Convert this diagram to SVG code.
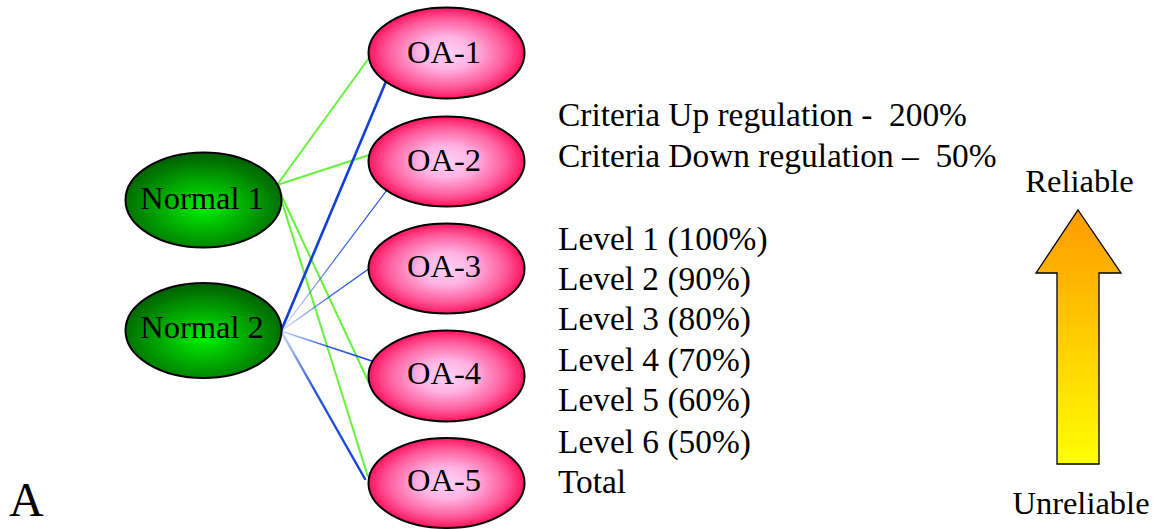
<svg xmlns="http://www.w3.org/2000/svg" width="1154" height="529" viewBox="0 0 1154 529">
<defs>
<radialGradient id="pink" cx="0.5" cy="0.5" r="0.5">
<stop offset="0" stop-color="#ffd2f6"/>
<stop offset="0.35" stop-color="#ffb4e4"/>
<stop offset="0.75" stop-color="#ff5c9c"/>
<stop offset="1" stop-color="#ff1460"/>
</radialGradient>
<radialGradient id="green" cx="0.5" cy="0.58" r="0.55">
<stop offset="0" stop-color="#00f000"/>
<stop offset="1" stop-color="#006400"/>
</radialGradient>
<linearGradient id="arrowGrad" x1="0" y1="0" x2="0" y2="1">
<stop offset="0" stop-color="#ff9a00"/>
<stop offset="1" stop-color="#ffff00"/>
</linearGradient>
<linearGradient id="b2" gradientUnits="userSpaceOnUse" x1="281" y1="331" x2="390" y2="186">
<stop offset="0" stop-color="#1040d8" stop-opacity="0.15"/>
<stop offset="0.5" stop-color="#1040d8" stop-opacity="0.8"/>
<stop offset="1" stop-color="#1040d8"/>
</linearGradient>
<linearGradient id="b3" gradientUnits="userSpaceOnUse" x1="281" y1="331" x2="377" y2="263">
<stop offset="0" stop-color="#1040d8" stop-opacity="0.15"/>
<stop offset="0.5" stop-color="#1040d8" stop-opacity="0.8"/>
<stop offset="1" stop-color="#1040d8"/>
</linearGradient>
<linearGradient id="b4" gradientUnits="userSpaceOnUse" x1="281" y1="331" x2="378" y2="363">
<stop offset="0" stop-color="#1040d8" stop-opacity="0.2"/>
<stop offset="0.5" stop-color="#1040d8" stop-opacity="0.85"/>
<stop offset="1" stop-color="#1040d8"/>
</linearGradient>
<linearGradient id="b5" gradientUnits="userSpaceOnUse" x1="281" y1="331" x2="365" y2="479">
<stop offset="0" stop-color="#1040d8" stop-opacity="0.2"/>
<stop offset="0.4" stop-color="#1040d8" stop-opacity="0.9"/>
<stop offset="1" stop-color="#1040d8"/>
</linearGradient>
</defs>
<style>
.oa{fill:url(#pink);stroke:#000;stroke-width:2}
.nm{fill:url(#green);stroke:#000;stroke-width:2}
.lbl{font-size:32.5px;fill:#000;text-anchor:middle}
.txt{font-size:33.4px;fill:#000;white-space:pre}
.g{stroke:#66f23a;stroke-width:2;fill:none}
.b{fill:none;stroke-linecap:round}
</style>
<rect width="1154" height="529" fill="#fff"/>
<g id="connectors">
<line class="g" x1="277" y1="185" x2="369" y2="58"/>
<line class="g" x1="277" y1="185" x2="369" y2="155"/>
<line class="g" x1="277" y1="186" x2="369" y2="383"/>
<line class="g" x1="277" y1="186" x2="368" y2="477"/>
<line class="b" x1="281" y1="331" x2="390" y2="72" stroke="#1040d8" stroke-width="2.6"/>
<line class="b" x1="281" y1="331" x2="390" y2="186" stroke="url(#b2)" stroke-width="1.2"/>
<line class="b" x1="281" y1="331" x2="377" y2="263" stroke="url(#b3)" stroke-width="1.3"/>
<line class="b" x1="281" y1="331" x2="378" y2="363" stroke="url(#b4)" stroke-width="1.8"/>
<line class="b" x1="281" y1="331" x2="365" y2="479" stroke="url(#b5)" stroke-width="2.4"/>
</g>
<g font-family="Liberation Serif, serif">
<g id="normal1"><ellipse class="nm" cx="203.5" cy="200" rx="78" ry="47.5"/><text class="lbl" x="202" y="209">Normal 1</text></g>
<g id="normal2"><ellipse class="nm" cx="203.5" cy="330.5" rx="78" ry="47.5"/><text class="lbl" x="202" y="338">Normal 2</text></g>
<g id="oa1"><ellipse class="oa" cx="446.5" cy="53" rx="78" ry="45.5"/><text class="lbl" x="444" y="63">OA-1</text></g>
<g id="oa2"><ellipse class="oa" cx="446.5" cy="161.5" rx="78" ry="45"/><text class="lbl" x="444" y="171">OA-2</text></g>
<g id="oa3"><ellipse class="oa" cx="446.5" cy="268.5" rx="78" ry="45"/><text class="lbl" x="444" y="277">OA-3</text></g>
<g id="oa4"><ellipse class="oa" cx="446.5" cy="376" rx="78" ry="45.5"/><text class="lbl" x="444" y="384">OA-4</text></g>
<g id="oa5"><ellipse class="oa" cx="446.5" cy="483" rx="78" ry="45"/><text class="lbl" x="444" y="491">OA-5</text></g>
<g id="criteria" xml:space="preserve">
<text class="txt" x="558" y="126">Criteria Up regulation -  200%</text>
<text class="txt" x="558" y="167">Criteria Down regulation –  50%</text>
<text class="txt" x="558" y="250">Level 1 (100%)</text>
<text class="txt" x="558" y="290">Level 2 (90%)</text>
<text class="txt" x="558" y="330">Level 3 (80%)</text>
<text class="txt" x="558" y="371">Level 4 (70%)</text>
<text class="txt" x="558" y="411">Level 5 (60%)</text>
<text class="txt" x="558" y="453">Level 6 (50%)</text>
<text class="txt" x="558" y="493">Total</text>
</g>
<g id="reliability">
<polygon points="1078,210 1121,273 1099,273 1099,464 1057,464 1057,273 1036,273" fill="url(#arrowGrad)" stroke="#000" stroke-width="1.3"/>
<text class="lbl" x="1079.5" y="192" font-size="31">Reliable</text>
<text class="lbl" x="1081" y="514" font-size="32">Unreliable</text>
</g>
<text x="9" y="516" font-size="48" fill="#000">A</text>
</g>
</svg>
